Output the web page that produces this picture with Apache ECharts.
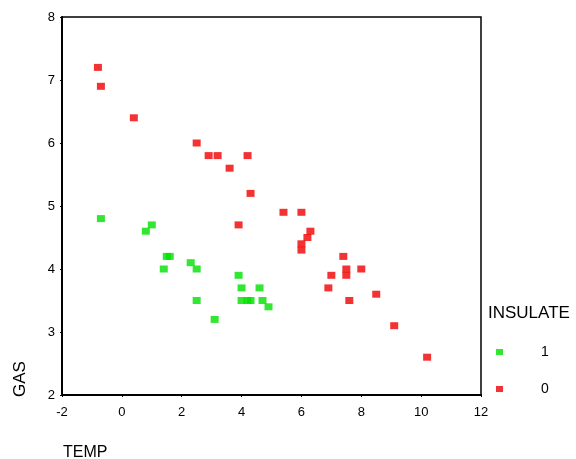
<!DOCTYPE html>
<html>
<head>
<meta charset="utf-8">
<script src="https://cdn.jsdelivr.net/npm/echarts@6/dist/echarts.min.js"></script>
<style>html,body{margin:0;padding:0;background:#fff}#c{width:576px;height:459px}</style>
</head>
<body>
<div id="c"></div>
<script>
const tempInsulated = [-0.7, 0.8, 1.0, 1.4, 1.5, 1.6, 2.3, 2.5, 2.5, 3.1, 3.9, 4.0, 4.0, 4.2, 4.3, 4.6, 4.7, 4.9];
const gasInsulated  = [4.8, 4.6, 4.7, 4.0, 4.2, 4.2, 4.1, 4.0, 3.5, 3.2, 3.9, 3.5, 3.7, 3.5, 3.5, 3.7, 3.5, 3.4];
const tempNot = [-0.8, -0.7, 0.4, 2.5, 2.9, 3.2, 3.6, 3.9, 4.2, 4.3, 5.4, 6.0, 6.0, 6.0, 6.2, 6.3, 6.9, 7.0, 7.4, 7.5, 7.5, 7.6, 8.0, 8.5, 9.1, 10.2];
const gasNot  = [7.2, 6.9, 6.4, 6.0, 5.8, 5.8, 5.6, 4.7, 5.8, 5.2, 4.9, 4.9, 4.3, 4.4, 4.5, 4.6, 3.7, 3.9, 4.2, 4.0, 3.9, 3.5, 4.0, 3.6, 3.1, 2.6];
const groupNames = ['1', '0'];
const legendTitle = 'INSULATE';
const xTitle = 'TEMP';
const yTitle = 'GAS';

const zip = (a, b) => a.map((v, i) => [v, b[i]]);
const chart = echarts.init(document.getElementById('c'));
const font = 'Liberation Sans, Arial, sans-serif';
chart.setOption({
  animation: false,
  grid: {left: 62, right: 95, top: 17, bottom: 64, show: true, borderColor: '#000', borderWidth: 1.5},
  xAxis: {
    type: 'value', min: -2, max: 12, interval: 2,
    axisLine: {show: true, onZero: false, lineStyle: {color: '#000', width: 2}},
    axisTick: {show: true, length: 2, lineStyle: {color: '#000'}},
    axisLabel: {color: '#000', fontSize: 13, fontFamily: font, margin: 11},
    splitLine: {show: false}
  },
  yAxis: {
    type: 'value', min: 2, max: 8, interval: 1,
    axisLine: {show: true, onZero: false, lineStyle: {color: '#000', width: 2}},
    axisTick: {show: true, length: 2, lineStyle: {color: '#000'}},
    axisLabel: {color: '#000', fontSize: 13, fontFamily: font, margin: 7},
    splitLine: {show: false}
  },
  title: {text: legendTitle, left: 488, top: 305, padding: 0, textStyle: {fontSize: 17, fontWeight: 'normal', color: '#000', fontFamily: font}},
  legend: {
    orient: 'vertical', left: 491, top: 340, itemWidth: 7, itemHeight: 6, itemGap: 23,
    data: groupNames,
    textStyle: {fontSize: 14, color: '#000', fontFamily: font, padding: [2, 0, 0, 33]}
  },
  graphic: [
    {type: 'text', left: 63, top: 445, style: {text: xTitle, fontSize: 16, fill: '#000', fontFamily: font}},
    {type: 'text', x: 20, y: 379, rotation: Math.PI / 2, style: {text: yTitle, fontSize: 17, fill: '#000', fontFamily: font, align: 'center', verticalAlign: 'middle'}}
  ],
  series: [
    {name: groupNames[0], type: 'scatter', symbol: 'rect', symbolSize: [8, 7], itemStyle: {color: '#00e000'}, data: zip(tempInsulated, gasInsulated)},
    {name: groupNames[1], type: 'scatter', symbol: 'rect', symbolSize: [8, 7], itemStyle: {color: '#f00000'}, data: zip(tempNot, gasNot)}
  ]
});
</script>
</body>
</html>
